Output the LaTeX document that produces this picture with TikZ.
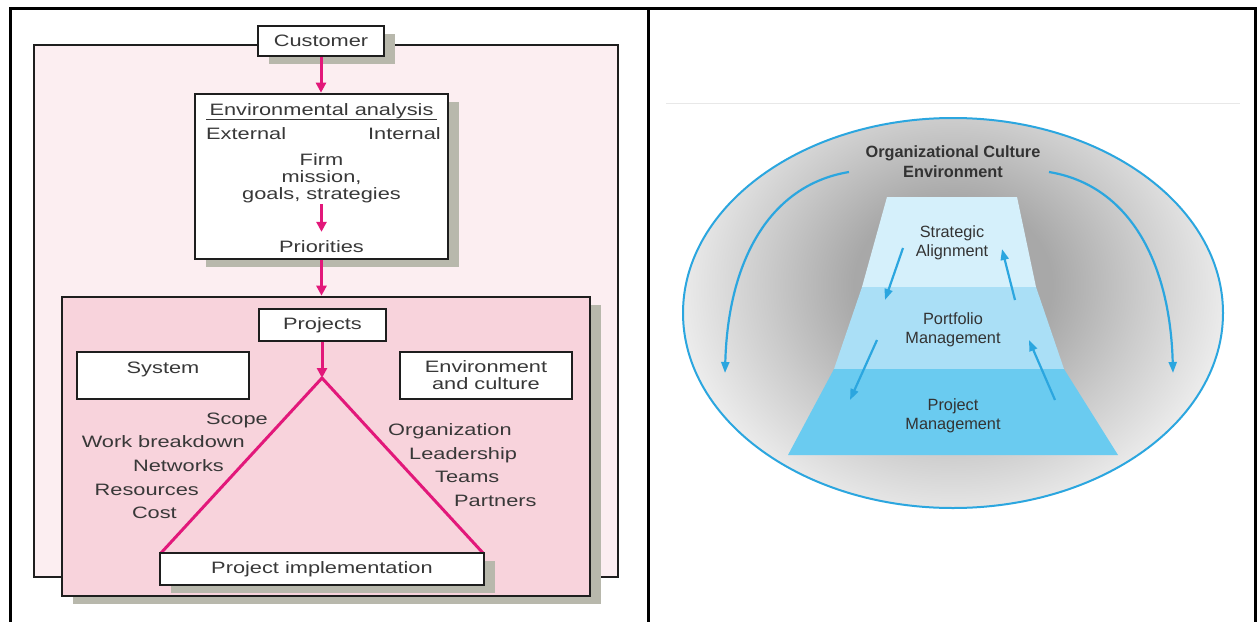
\documentclass[tikz,border=0pt]{standalone}
\usepackage{fontspec}
\setmainfont{Liberation Sans}
\newfontfamily\lf[FakeStretch=1.32]{Liberation Sans}
\usetikzlibrary{arrows.meta,shadows}
\definecolor{outerpink}{HTML}{FCEEF1}
\definecolor{innerpink}{HTML}{F8D3DC}
\definecolor{magc}{HTML}{E2187A}
\definecolor{shadowc}{HTML}{B8B8AC}
\definecolor{boxc}{HTML}{1E1E1E}
\definecolor{textc}{HTML}{383838}
\definecolor{rtextc}{HTML}{333333}
\definecolor{bluec}{HTML}{2BA6DF}
\definecolor{bandA}{HTML}{D5F0FB}
\definecolor{bandB}{HTML}{AADFF6}
\definecolor{bandC}{HTML}{6ACBF0}
\definecolor{glowin}{HTML}{A8A8A8}
\definecolor{glowmid}{HTML}{CBCBCB}
\definecolor{glowout}{HTML}{ECECEC}
\pgfdeclareradialshading{glow}{\pgfpoint{0bp}{0bp}}{color(0bp)=(glowin); color(9bp)=(glowin); color(17bp)=(glowmid); color(25bp)=(glowout); color(50bp)=(glowout)}
\tikzset{
  lbox/.style={draw=boxc, line width=2.6pt, fill=white, inner sep=0pt},
  shad/.style={drop shadow={shadow xshift=11pt, shadow yshift=-8pt, fill=shadowc, opacity=1}},
  ltext/.style={font=\lf\fontsize{16.5}{17}\selectfont, text=textc, inner sep=0pt},
  marrow/.style={draw=magc, line width=3pt, -{Triangle[length=10pt,width=10pt]}},
  rtext/.style={font=\fontsize{16.3}{19}\selectfont, text=rtextc, align=center, inner sep=0pt},
  barrow/.style={draw=bluec, line width=2.2pt, -{Triangle[length=11pt,width=8pt]}},
}
\begin{document}
\begin{tikzpicture}[x=1pt,y=-1pt]
\useasboundingbox (0,0) rectangle (1258,621);
\clip (0,0) rectangle (1258,621);
\fill[white] (0,0) rectangle (1258,621);
% table frame
\draw[line width=3pt] (10,630) -- (10,8) -- (1255,8) -- (1255,630);
\draw[line width=3pt] (648,8) -- (648,630);

% ---------------- left panel ----------------
\node[draw=boxc, line width=2.2pt, fill=outerpink, minimum width=584pt, minimum height=532pt, inner sep=0pt] (outer) at (326,311) {};
\node[lbox, shad, ltext, minimum width=126pt, minimum height=30pt] (cust) at (321,41) {Customer};
\node[lbox, shad, minimum width=253pt, minimum height=165pt] (env) at (321.5,176.5) {};
\node[ltext, anchor=base] (envt) at (321.5,115) {Environmental analysis};
\draw[draw=textc, line width=1pt] (206,119) -- (437,119);
\node[ltext, anchor=base west] (ext) at (206,139) {External};
\node[ltext, anchor=base east] (int) at (441,139) {Internal};
\node[ltext, align=center] (firm) at (321.5,178.5) {Firm\\mission,\\goals, strategies};
\node[ltext, anchor=base] (prio) at (321.5,252) {Priorities};
\draw[marrow, shorten <=1pt, shorten >=8pt] (firm.south) -- (prio.north);
\draw[marrow] (cust.south) -- (cust.south |- env.north);

\node[lbox, fill=innerpink, shad, minimum width=528pt, minimum height=299pt] (inner) at (326,446.5) {};
\draw[marrow] (env.south) -- (env.south |- inner.north);

\node[lbox, ltext, minimum width=127pt, minimum height=32pt] (proj) at (322.5,325) {Projects};
\node[lbox, minimum width=172pt, minimum height=47pt] (sys) at (163,375.5) {};
\node[ltext, anchor=base] (syst) at (163,373) {System};
\node[lbox, ltext, align=center, minimum width=172pt, minimum height=47pt] (envc) at (486,375.5) {Environment\\and culture};

\coordinate (apex) at (322,378);
\coordinate (tbl) at (161,553);
\coordinate (tbr) at (483,553);
\draw[marrow] (apex |- proj.south) -- (apex);
\draw[magc, line width=3pt, line join=round] (tbl) -- (apex) -- (tbr);
\node[lbox, shad, ltext, minimum width=324pt, minimum height=32pt] (impl) at (322,569) {Project implementation};

\node[ltext, anchor=base east] (l1) at (268,424) {Scope};
\node[ltext, anchor=base east] (l2) at (245,447) {Work breakdown};
\node[ltext, anchor=base east] (l3) at (224,471) {Networks};
\node[ltext, anchor=base east] (l4) at (199,495) {Resources};
\node[ltext, anchor=base east] (l5) at (177,518) {Cost};
\node[ltext, anchor=base west] (r1) at (388,435) {Organization};
\node[ltext, anchor=base west] (r2) at (409,459) {Leadership};
\node[ltext, anchor=base west] (r3) at (435,482) {Teams};
\node[ltext, anchor=base west] (r4) at (454,506) {Partners};

% ---------------- right panel ----------------
\draw[black!9, line width=1pt] (666,103) -- (1240,103);
\begin{scope}
  \clip (953,313) ellipse [x radius=270pt, y radius=195pt];
  \fill[glowout] (953,313) ellipse [x radius=270pt, y radius=195pt];
  \path[shading=glow] (953,285) ellipse [x radius=275pt, y radius=240pt];
\end{scope}
\draw[bluec, line width=2pt] (953,313) ellipse [x radius=270pt, y radius=195pt];
\fill[bandA] (887,197) -- (1017,197) -- (1036,287) -- (862,287) -- cycle;
\fill[bandB] (862,287) -- (1036,287) -- (1064,369) -- (834,369) -- cycle;
\fill[bandC] (834,369) -- (1064,369) -- (1118,455) -- (788,455) -- cycle;

\node[rtext, font=\bfseries\fontsize{16.3}{20}\selectfont] (oce) at (953,162) {Organizational Culture\\Environment};
\node[rtext] (sa) at (952,243) {Strategic\\Alignment};
\node[rtext] (pm) at (953,330) {Portfolio\\Management};
\node[rtext] (prm) at (953,416) {Project\\Management};

\coordinate (bl0) at (849,172);
\coordinate (bl1) at (725,373);
\coordinate (br0) at (1049,172);
\coordinate (br1) at (1173,373);
\draw[barrow] (bl0) .. controls (770,185) and (728,260) .. (bl1);
\draw[barrow] (br0) .. controls (1128,185) and (1170,260) .. (br1);

\coordinate (d1a) at (903,248); \coordinate (d1b) at (885,300);
\coordinate (u1a) at (1015,300); \coordinate (u1b) at (1002,249);
\coordinate (d2a) at (877,340); \coordinate (d2b) at (850,400);
\coordinate (u2a) at (1055,400); \coordinate (u2b) at (1029,340);
\draw[barrow] (d1a) -- (d1b);
\draw[barrow] (u1a) -- (u1b);
\draw[barrow] (d2a) -- (d2b);
\draw[barrow] (u2a) -- (u2b);
\end{tikzpicture}
\end{document}
